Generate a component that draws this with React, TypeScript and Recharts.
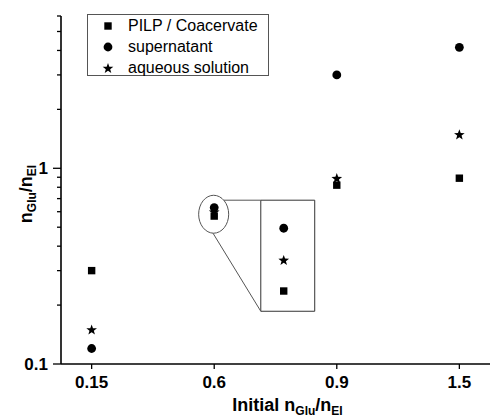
import {
  ScatterChart,
  Scatter,
  XAxis,
  YAxis,
  Legend,
  ReferenceArea,
  ReferenceLine
} from 'recharts'

const FONT = '"Liberation Sans", Arial, sans-serif'

// categories on the x axis (initial nGlu/nEI)
const categories = ['0.15', '0.6', '0.9', '1.5']
const pilp = [0.3, 0.57, 0.82, 0.89]
const supernatant = [0.12, 0.63, 3.0, 4.15]
const aqueous = [0.15, 0.6, 0.89, 1.49]

const yTicks = [0.1, 0.2, 0.3, 0.4, 0.5, 0.6, 0.7, 0.8, 0.9, 1, 2, 3, 4, 5, 6]
const yMajor = [0.1, 1]

// zoom call-out (magnified 0.6 cluster)
const insetX = [1.567]
const insetSupernatant = [0.494]
const insetAqueous = [0.34]
const insetPilp = [0.236]

const toPoints = (vals: number[]) => vals.map((y, i) => ({ x: i, y }))
const toInset = (vals: number[]) => vals.map((y) => ({ x: insetX[0], y }))

const SquareShape = (props: any) => {
  const { cx, cy } = props
  if (cx == null || cy == null) return null
  return <rect x={cx - 3.7} y={cy - 3.7} width={7.4} height={7.4} fill="#000" />
}

const CircleShape = (props: any) => {
  const { cx, cy } = props
  if (cx == null || cy == null) return null
  return <circle cx={cx} cy={cy} r={4.4} fill="#000" />
}

const starPath = (cx: number, cy: number, ro: number, ri: number) => {
  let d = ''
  for (let i = 0; i < 10; i++) {
    const r = i % 2 === 0 ? ro : ri
    const a = -Math.PI / 2 + (i * Math.PI) / 5
    d += (i === 0 ? 'M' : 'L') + (cx + r * Math.cos(a)).toFixed(2) + ',' + (cy + r * Math.sin(a)).toFixed(2)
  }
  return d + 'Z'
}

const StarShape = (props: any) => {
  const { cx, cy } = props
  if (cx == null || cy == null) return null
  return <path d={starPath(cx, cy + 0.5, 5.6, 2.3)} fill="#000" />
}

const YTick = (props: any) => {
  const { x, y, payload } = props
  const major = yMajor.includes(payload.value)
  return (
    <g>
      <line x1={x} x2={x - (major ? 8 : 4)} y1={y} y2={y} stroke="#000" strokeWidth={1.3} />
      {major && (
        <text x={x - 13} y={y} dy={6} textAnchor="end" fontFamily={FONT} fontWeight="bold" fontSize={17} fill="#000">
          {payload.value}
        </text>
      )}
    </g>
  )
}

const XTick = (props: any) => {
  const { x, y, payload } = props
  return (
    <g>
      <line x1={x} x2={x} y1={y} y2={y + 5} stroke="#000" strokeWidth={1.3} />
      <text x={x} y={y + 24} textAnchor="middle" fontFamily={FONT} fontWeight="bold" fontSize={17} fill="#000">
        {categories[payload.value]}
      </text>
    </g>
  )
}

const EllipseShape = (props: any) => {
  const { x, y, width, height } = props
  return (
    <ellipse
      cx={x + width / 2}
      cy={y + height / 2}
      rx={Math.abs(width) / 2}
      ry={Math.abs(height) / 2}
      fill="none"
      stroke="#555"
      strokeWidth={1}
    />
  )
}

const XLabel = (props: any) => {
  const { viewBox } = props
  const cx = viewBox.x + viewBox.width / 2
  return (
    <text x={cx + 12} y={411} textAnchor="middle" fontFamily={FONT} fontWeight="bold" fontSize={18} fill="#000">
      Initial n
      <tspan fontSize={12} dy={4}>Glu</tspan>
      <tspan dy={-4}>/n</tspan>
      <tspan fontSize={12} dy={4}>EI</tspan>
    </text>
  )
}

const YLabel = () => (
  <text
    x={0}
    y={0}
    transform="translate(32,194) rotate(-90)"
    textAnchor="middle"
    fontFamily={FONT}
    fontWeight="bold"
    fontSize={18}
    fill="#000"
  >
    n
    <tspan fontSize={12} dy={4}>Glu</tspan>
    <tspan dy={-4}>/n</tspan>
    <tspan fontSize={12} dy={4}>EI</tspan>
  </text>
)

const legendItems = [
  { name: 'PILP / Coacervate', Icon: SquareShape },
  { name: 'supernatant', Icon: CircleShape },
  { name: 'aqueous solution', Icon: StarShape }
]

const LegendBox = () => (
  <div
    style={{
      border: '1px solid #555',
      width: 180,
      height: 60,
      boxSizing: 'content-box',
      background: '#fff',
      fontFamily: FONT,
      fontSize: 16,
      color: '#000'
    }}
  >
    {legendItems.map(({ name, Icon }) => (
      <div key={name} style={{ display: 'flex', alignItems: 'center', height: 21.3 }}>
        <svg width={40} height={18} style={{ display: 'block' }}>
          <Icon cx={20} cy={9} />
        </svg>
        <span style={{ lineHeight: '18px' }}>{name}</span>
      </div>
    ))}
  </div>
)

export default function App() {
  return (
    <div style={{ position: 'absolute', left: 0, top: 0, background: '#fff' }}>
      <ScatterChart width={491} height={419} margin={{ top: 16, right: 1, left: 0, bottom: 0 }}>
        <XAxis
          type="number"
          dataKey="x"
          domain={[-0.25, 3.25]}
          ticks={[0, 1, 2, 3]}
          height={55}
          tickSize={0}
          tickMargin={0}
          tickLine={false}
          axisLine={{ stroke: '#000', strokeWidth: 1.6 }}
          tick={<XTick />}
          label={<XLabel />}
          allowDataOverflow
        />
        <YAxis
          type="number"
          dataKey="y"
          scale="log"
          domain={[0.1, 6]}
          ticks={yTicks}
          interval={0}
          width={61}
          tickSize={0}
          tickMargin={0}
          tickLine={false}
          axisLine={{ stroke: '#000', strokeWidth: 1.6 }}
          tick={<YTick />}
          label={<YLabel />}
          allowDataOverflow
        />
        <Legend
          layout="horizontal"
          align="center"
          verticalAlign="middle"
          wrapperStyle={{ left: 87, top: 14, width: 'auto', height: 'auto' }}
          content={<LegendBox />}
        />
        <ReferenceLine
          segment={[{ x: 1.078, y: 0.687 }, { x: 1.38, y: 0.687 }]}
          stroke="#555"
          strokeWidth={1}
          ifOverflow="visible"
        />
        <ReferenceLine
          segment={[{ x: 0.99, y: 0.466 }, { x: 1.38, y: 0.186 }]}
          stroke="#555"
          strokeWidth={1}
          ifOverflow="visible"
        />
        <ReferenceArea x1={1.38} x2={1.82} y1={0.186} y2={0.687} fill="#fff" fillOpacity={1} stroke="#333" strokeWidth={1} />
        <ReferenceArea x1={0.873} x2={1.118} y1={0.466} y2={0.728} shape={<EllipseShape />} />
        <Scatter name="PILP / Coacervate" data={toPoints(pilp)} shape={<SquareShape />} isAnimationActive={false} />
        <Scatter name="supernatant" data={toPoints(supernatant)} shape={<CircleShape />} isAnimationActive={false} />
        <Scatter name="aqueous solution" data={toPoints(aqueous)} shape={<StarShape />} isAnimationActive={false} />
        <Scatter data={toInset(insetSupernatant)} shape={<CircleShape />} legendType="none" isAnimationActive={false} />
        <Scatter data={toInset(insetAqueous)} shape={<StarShape />} legendType="none" isAnimationActive={false} />
        <Scatter data={toInset(insetPilp)} shape={<SquareShape />} legendType="none" isAnimationActive={false} />
      </ScatterChart>
    </div>
  )
}
